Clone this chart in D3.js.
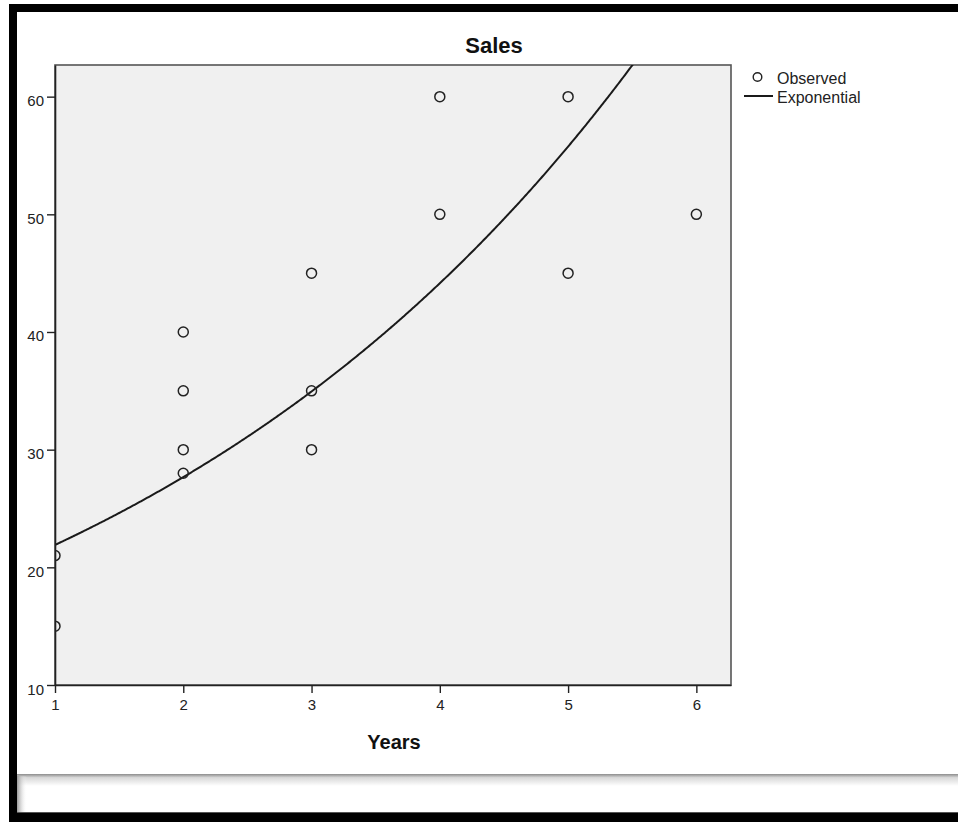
<!DOCTYPE html>
<html>
<head>
<meta charset="utf-8">
<script src="https://cdn.jsdelivr.net/npm/d3@7/dist/d3.min.js"></script>
<style>
  html, body { margin: 0; padding: 0; background: #fff; }
  svg { display: block; font-family: "Liberation Sans", Arial, sans-serif; }
</style>
</head>
<body>
<svg id="chart" width="958" height="822"></svg>
<script>
// Observed sales by year
const years = [1, 1, 2, 2, 2, 2, 3, 3, 3, 4, 4, 5, 5, 6];
const sales = [21, 15, 40, 35, 30, 28, 45, 35, 30, 60, 50, 60, 45, 50];

// Fitted exponential model: sales = a * exp(b * years)
const expA = 17.34;
const expB = 0.2336;

// Axis ticks
const xTicks = [1, 2, 3, 4, 5, 6];
const yTicks = [10, 20, 30, 40, 50, 60];

const chartTitle = "Sales";
const xTitle = "Years";
const legendLabels = ["Observed", "Exponential"];

const svg = d3.select("#chart");
const W = 958, H = 822;

// Frame: thick black border, bottom panel with soft shadow
const defs = svg.append("defs");
const gTop = defs.append("linearGradient").attr("id", "shadeTop")
  .attr("x1", 0).attr("y1", 0).attr("x2", 0).attr("y2", 1);
gTop.append("stop").attr("offset", 0).attr("stop-color", "#8c8c8c");
gTop.append("stop").attr("offset", 0.3).attr("stop-color", "#d8d8d8");
gTop.append("stop").attr("offset", 1).attr("stop-color", "#ffffff");
const gLeft = defs.append("linearGradient").attr("id", "shadeLeft")
  .attr("x1", 0).attr("y1", 0).attr("x2", 1).attr("y2", 0);
gLeft.append("stop").attr("offset", 0).attr("stop-color", "#9a9a9a");
gLeft.append("stop").attr("offset", 1).attr("stop-color", "#ffffff").attr("stop-opacity", 0);

svg.append("rect").attr("x", 0).attr("y", 0).attr("width", W).attr("height", H).attr("fill", "#fff");
svg.append("rect").attr("x", 17).attr("y", 774).attr("width", W - 17).attr("height", 12).attr("fill", "url(#shadeTop)");
svg.append("rect").attr("x", 17).attr("y", 776).attr("width", 10).attr("height", 37).attr("fill", "url(#shadeLeft)");
svg.append("rect").attr("x", 9).attr("y", 4).attr("width", W - 9).attr("height", 8).attr("fill", "#000");
svg.append("rect").attr("x", 9).attr("y", 4).attr("width", 8).attr("height", H - 4).attr("fill", "#000");
svg.append("rect").attr("x", 9).attr("y", 813).attr("width", W - 9).attr("height", 9).attr("fill", "#000");
svg.append("line").attr("x1", 17).attr("x2", W).attr("y1", 812.5).attr("y2", 812.5).attr("stroke", "#555");

// Plot area
const plot = { left: 55, top: 65, right: 731, bottom: 685 };
const x = d3.scaleLinear().domain([1, 6.27]).range([plot.left, plot.right]);
const y = d3.scaleLinear().domain([10, 62.69]).range([plot.bottom, plot.top]);

svg.append("rect")
  .attr("x", plot.left).attr("y", plot.top)
  .attr("width", plot.right - plot.left).attr("height", plot.bottom - plot.top)
  .attr("fill", "#f0f0f0").attr("stroke", "#555").attr("stroke-width", 1.6);

defs.append("clipPath").attr("id", "plotClip")
  .append("rect")
  .attr("x", plot.left).attr("y", plot.top)
  .attr("width", plot.right - plot.left).attr("height", plot.bottom - plot.top);

const inner = svg.append("g").attr("clip-path", "url(#plotClip)");

// Exponential fit curve
const curveXs = d3.range(1, 6.27, 0.01);
const line = d3.line().x(d => x(d)).y(d => y(expA * Math.exp(expB * d)));
inner.append("path")
  .datum(curveXs)
  .attr("d", line)
  .attr("fill", "none").attr("stroke", "#1a1a1a").attr("stroke-width", 2);

// Observed points
inner.selectAll("circle.obs")
  .data(years.map((yr, i) => ({ yr, v: sales[i] })))
  .join("circle")
  .attr("class", "obs")
  .attr("cx", d => x(d.yr)).attr("cy", d => y(d.v)).attr("r", 5)
  .attr("fill", "none").attr("stroke", "#222").attr("stroke-width", 1.5);

// Axes
const xAxis = d3.axisBottom(x).tickValues(xTicks).tickSizeInner(8).tickSizeOuter(0)
  .tickPadding(6).tickFormat(d3.format("d"));
const gx = svg.append("g").attr("transform", `translate(0,${plot.bottom})`).call(xAxis);
gx.select(".domain").attr("stroke", "#222").attr("stroke-width", 1.6);
gx.selectAll(".tick line").attr("stroke", "#222").attr("stroke-width", 1.4);
gx.selectAll(".tick text").attr("fill", "#222").attr("font-size", 15)
  .attr("font-family", "'Liberation Sans', Arial, sans-serif");

const yAxis = d3.axisLeft(y).tickValues(yTicks).tickSizeInner(8).tickSizeOuter(0)
  .tickPadding(3).tickFormat(d3.format("d"));
const gy = svg.append("g").attr("transform", `translate(${plot.left},0)`).call(yAxis);
gy.select(".domain").attr("stroke", "#222").attr("stroke-width", 1.6);
gy.selectAll(".tick line").attr("stroke", "#222").attr("stroke-width", 1.4);
gy.selectAll(".tick text").attr("fill", "#222").attr("font-size", 15)
  .attr("dy", "0.6em")
  .attr("font-family", "'Liberation Sans', Arial, sans-serif");

// Titles
svg.append("text").attr("x", 494).attr("y", 53).attr("text-anchor", "middle")
  .attr("font-size", 22).attr("font-weight", "bold").attr("fill", "#111").text(chartTitle);
svg.append("text").attr("x", 394).attr("y", 749).attr("text-anchor", "middle")
  .attr("font-size", 20).attr("font-weight", "bold").attr("fill", "#111").text(xTitle);

// Legend
const legend = svg.append("g");
legend.append("circle").attr("cx", 757.5).attr("cy", 77).attr("r", 4.3)
  .attr("fill", "none").attr("stroke", "#222").attr("stroke-width", 1.4);
legend.append("text").attr("x", 777).attr("y", 84).attr("font-size", 16).attr("fill", "#222").text(legendLabels[0]);
legend.append("line").attr("x1", 744).attr("x2", 773).attr("y1", 96).attr("y2", 96)
  .attr("stroke", "#1a1a1a").attr("stroke-width", 2);
legend.append("text").attr("x", 777).attr("y", 103).attr("font-size", 16).attr("fill", "#222").text(legendLabels[1]);
</script>
</body>
</html>
